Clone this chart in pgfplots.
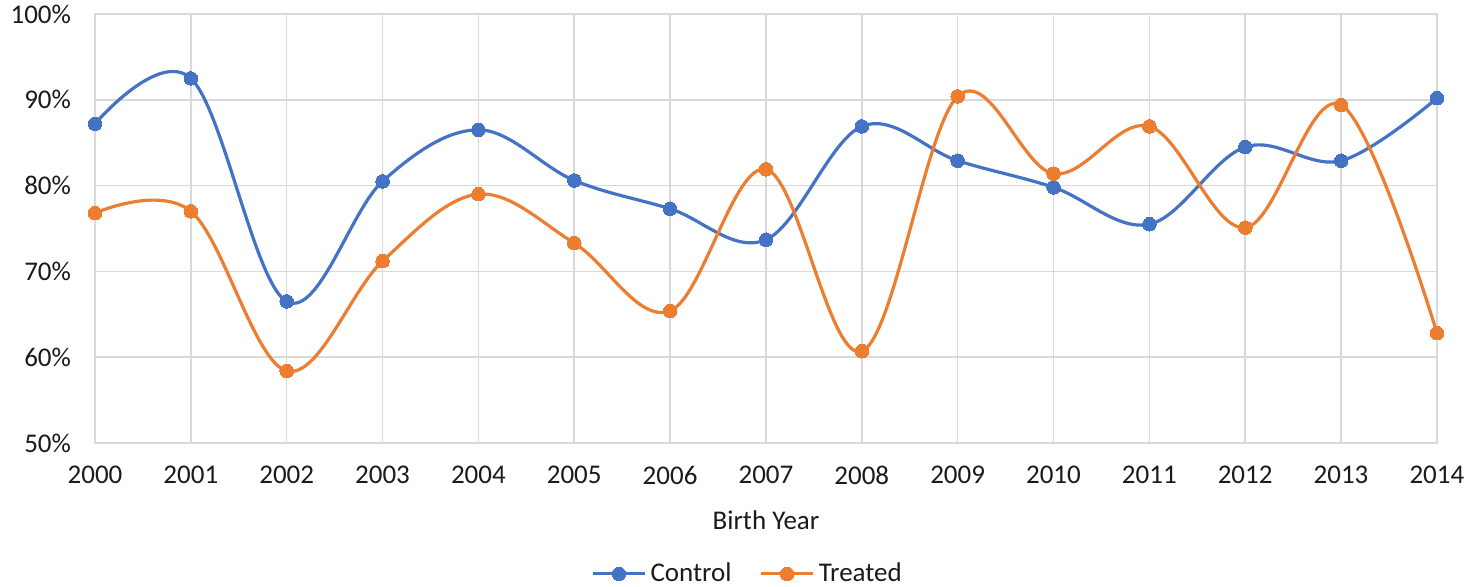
\documentclass[border=0pt]{standalone}
\usepackage{pgfplots}
\pgfplotsset{compat=1.18}
\usepackage{fontspec}
\setmainfont{Carlito}
\definecolor{cblue}{HTML}{4472C4}
\definecolor{corange}{HTML}{ED7D31}
\definecolor{gridc}{HTML}{D9D9D9}
\definecolor{txt}{HTML}{1A1A1A}
\begin{document}
\begin{tikzpicture}
\begin{axis}[
  at={(0,0)}, anchor=south west,
  scale only axis,
  width=671pt, height=214.5pt,
  xmin=2000, xmax=2014, ymin=50, ymax=100,
  xtick={2000,...,2014},
  ytick={50,60,...,100},
  xticklabel={\pgfmathprintnumber[1000 sep=]{\tick}},
  yticklabel={\pgfmathprintnumber{\tick}\%},
  /pgf/number format/assume math mode=true,
  tick label style={font=\fontsize{13.5}{15}\selectfont, text=txt},
  xticklabel style={yshift=-8pt},
  yticklabel style={xshift=-8.5pt},
  major tick length=0pt,
  grid=major,
  grid style={gridc, line width=0.8pt},
  axis line style={gridc, line width=0.8pt},
  xlabel={Birth Year},
  xlabel style={font=\fontsize{13.5}{15}\selectfont, text=txt, yshift=-6pt},
  legend style={at={(0.487,-0.305)}, anchor=center, draw=none, fill=none,
    legend columns=-1, font=\fontsize{13.5}{15}\selectfont, text=txt,
    /tikz/every even column/.append style={column sep=12pt}},
  legend image code/.code={\draw[mark repeat=2,mark phase=2,#1] plot coordinates {(0pt,0pt) (13pt,0pt) (26pt,0pt)};},
  clip=false,
]
\addplot[cblue, line width=1.6pt, smooth, tension=0.6, mark=*, mark size=3.4pt, mark options={solid, fill=cblue, draw=cblue, line width=0pt}] coordinates {
(2000,87.2) (2001,92.5) (2002,66.5) (2003,80.5) (2004,86.5) (2005,80.6) (2006,77.3) (2007,73.7) (2008,86.9) (2009,82.9) (2010,79.8) (2011,75.5) (2012,84.5) (2013,82.9) (2014,90.2)};
\addlegendentry{Control}
\addplot[corange, line width=1.6pt, smooth, tension=0.6, mark=*, mark size=3.4pt, mark options={solid, fill=corange, draw=corange, line width=0pt}] coordinates {
(2000,76.8) (2001,77.0) (2002,58.4) (2003,71.2) (2004,79.0) (2005,73.3) (2006,65.4) (2007,81.9) (2008,60.7) (2009,90.4) (2010,81.4) (2011,86.9) (2012,75.1) (2013,89.4) (2014,62.8)};
\addlegendentry{Treated}
\end{axis}
\pgfresetboundingbox
\path (-47.5pt,-71.5pt) rectangle (685.5pt,221.5pt);
\end{tikzpicture}
\end{document}
